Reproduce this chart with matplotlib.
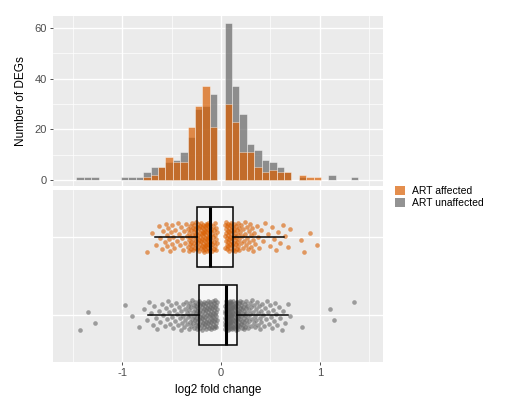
import numpy as np
import matplotlib
matplotlib.use("Agg")
import matplotlib.pyplot as plt
from matplotlib.patches import Patch

plt.rcParams['font.family'] = ['Liberation Sans', 'DejaVu Sans']
plt.rcParams['axes.unicode_minus'] = False

# --- datos ---
groups = ["ART affected", "ART unaffected"]
bin_width = 0.075
bin_centers = [-1.425, -1.35, -1.275, -1.2, -1.125, -1.05, -0.975, -0.9, -0.825,
               -0.75, -0.675, -0.6, -0.525, -0.45, -0.375, -0.3, -0.225, -0.15,
               -0.075, 0.0, 0.075, 0.15, 0.225, 0.3, 0.375, 0.45, 0.525, 0.6,
               0.675, 0.75, 0.825, 0.9, 0.975, 1.05, 1.125, 1.2, 1.275, 1.35]
counts_affected = [0, 0, 0, 0, 0, 0, 0, 0, 0,
                   1, 2, 5, 9, 7, 7, 21, 29, 37,
                   21, 0, 30, 23, 11, 11, 5, 3, 4, 3,
                   3, 0, 2, 1, 1, 0, 0, 0, 0, 0]
counts_unaffected = [1, 1, 1, 0, 0, 0, 1, 1, 1,
                     3, 5, 5, 7, 8, 11, 17, 28, 29,
                     34, 0, 62, 37, 26, 14, 12, 8, 7, 5,
                     3, 0, 1, 0, 0, 0, 2, 0, 0, 1]

# cajas: q1, mediana, q3, bigote inf, bigote sup
box_affected = dict(q1=-0.247, med=-0.115, q3=0.125, whislo=-0.663, whishi=0.64)
box_unaffected = dict(q1=-0.223, med=0.054, q3=0.166, whislo=-0.738, whishi=0.683)

col_aff = '#D95F02'
col_un = '#666666'
bg = '#EBEBEB'

fig = plt.figure(figsize=(5.06, 4.04), dpi=100)
ax1 = fig.add_axes([53/506, 1 - 186/404, 330/506, 170/404])
ax2 = fig.add_axes([53/506, 1 - 362/404, 330/506, 172/404])

xlim = (-1.70, 1.64)
for ax in (ax1, ax2):
    ax.set_facecolor(bg)
    for s in ax.spines.values():
        s.set_visible(False)
    ax.set_xlim(*xlim)
    ax.set_xticks([-1, 0, 1])
    ax.set_xticks([-1.5, -0.5, 0.5, 1.5], minor=True)
    ax.grid(True, which='major', color='white', lw=1.0, zorder=0)
    ax.grid(True, which='minor', color='white', lw=0.5, zorder=0)
    ax.set_axisbelow(True)
    ax.tick_params(which='minor', length=0)
    ax.tick_params(which='major', length=2.5, width=0.6, color='#333333',
                   labelcolor='#4D4D4D', labelsize=8, pad=2)

# --- histograma ---
ax1.bar(bin_centers, counts_unaffected, width=bin_width, color=col_un, alpha=0.7,
        edgecolor='white', linewidth=0.4, zorder=2)
ax1.bar(bin_centers, counts_affected, width=bin_width, color=col_aff, alpha=0.7,
        edgecolor='white', linewidth=0.4, zorder=3)
ax1.set_ylim(-2.4, 64.7)
ax1.set_yticks([0, 20, 40, 60])
ax1.set_yticks([10, 30, 50], minor=True)
ax1.tick_params(axis='x', which='both', length=0, labelbottom=False)
ax1.set_ylabel("Number of DEGs", fontsize=8.5, labelpad=5)

# --- cajas + puntos ---
ax2.set_ylim(0.4, 2.6)
ax2.set_yticks([1, 2])
ax2.tick_params(axis='y', length=0, labelleft=False)


def spread(centers, counts):
    xs = []
    for c, n in zip(centers, counts):
        for i in range(n):
            xs.append(c + ((i + 0.5) / n - 0.5) * bin_width)
    return np.array(xs)


golden = 0.6180339887
for ypos, cnts, col, box in [(2, counts_affected, col_aff, box_affected),
                             (1, counts_unaffected, col_un, box_unaffected)]:
    xs = spread(bin_centers, cnts)
    k = np.arange(len(xs))
    dy = ((k * golden) % 1.0) * 2 - 1
    st = dict(box, fliers=[])
    # relleno de la caja
    ax2.bxp([st], positions=[ypos], vert=False, widths=0.77, showfliers=False,
            patch_artist=True, showcaps=False,
            boxprops=dict(facecolor='white', alpha=0.6, edgecolor='none'),
            whiskerprops=dict(lw=0), medianprops=dict(lw=0), zorder=2)
    ax2.scatter(xs, ypos + dy * 0.19, s=11, color=col, alpha=0.6,
                linewidths=0, zorder=3)
    ax2.bxp([st], positions=[ypos], vert=False, widths=0.77, showfliers=False,
            patch_artist=True, showcaps=False,
            boxprops=dict(facecolor='none', edgecolor='black', lw=1.1),
            whiskerprops=dict(color='black', lw=1.1),
            medianprops=dict(color='black', lw=2.2), zorder=4)

ax2.set_yticks([1, 2])
ax2.set_xticks([-1, 0, 1])
ax2.set_xticklabels(['-1', '0', '1'])
ax2.set_xlabel("log2 fold change", fontsize=8.5, labelpad=4)

handles = [Patch(facecolor=col_aff, alpha=0.7, edgecolor='none'),
           Patch(facecolor=col_un, alpha=0.7, edgecolor='none')]
fig.legend(handles, groups, loc='center left',
           bbox_to_anchor=(386/506, 1 - 197/404), frameon=False,
           fontsize=7.5, handlelength=0.9, handleheight=0.9,
           handletextpad=0.7, labelspacing=0.2)

fig.savefig("out.png", dpi=100)
